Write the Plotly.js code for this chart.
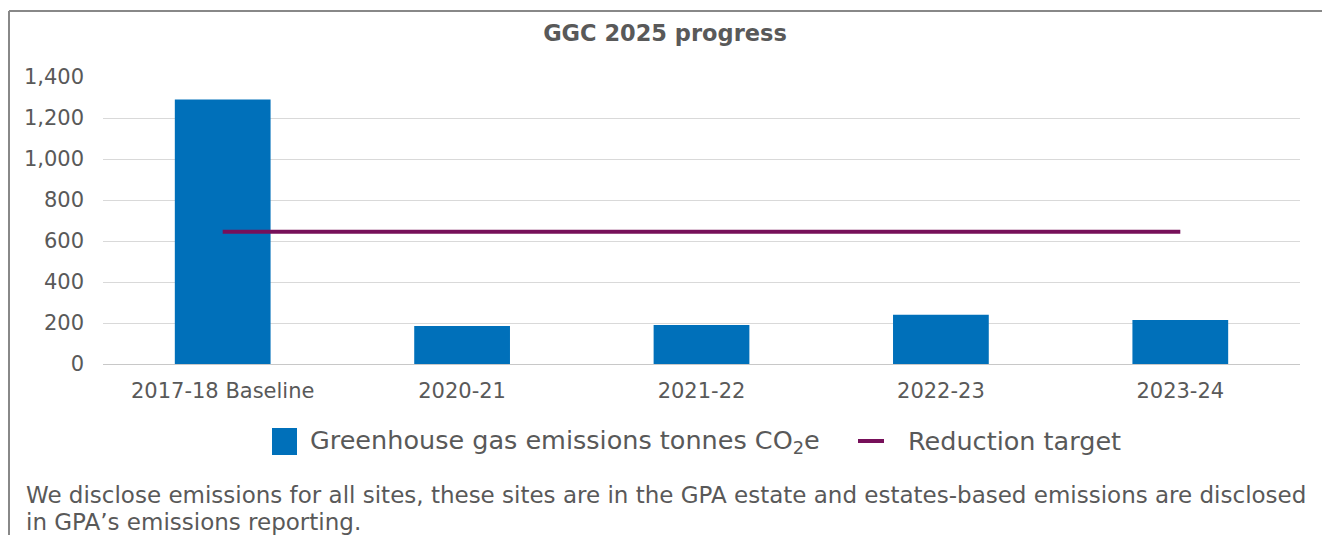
<!DOCTYPE html>
<html>
<head>
<meta charset="utf-8">
<script src="https://cdn.plot.ly/plotly-3.0.1.min.js"></script>
<style>html,body{margin:0;padding:0;background:#fff;}#chart{width:1322px;height:535px;}</style>
</head>
<body>
<div id="chart"></div>
<script>
const categories = ["2017-18 Baseline", "2020-21", "2021-22", "2022-23", "2023-24"];
const emissions = [1290, 185, 190, 240, 215];
const target = [645, 645, 645, 645, 645];
const yTicks = [0, 200, 400, 600, 800, 1000, 1200, 1400];
const yTickLabels = ["0", "200", "400", "600", "800", "1,000", "1,200", "1,400"];
const seriesNames = ["Greenhouse gas emissions tonnes CO<sub>2</sub>e", "Reduction target"];
const titleText = "GGC 2025 progress";
const footLines = ["We disclose emissions for all sites, these sites are in the GPA estate and estates-based emissions are disclosed",
                   "in GPA’s emissions reporting."];

const font = "DejaVu Sans, sans-serif";
const grey = "#595959";
const blue = "#0070BA";
const plum = "#77105A";

// pixel -> paper helpers (plot area: x 103..1300, y 77..364)
const px = X => (X - 103) / 1197;
const py = Y => (364 - Y) / 287;

const traces = [
  {type: "bar", x: categories, y: emissions, name: seriesNames[0],
   marker: {color: blue}, showlegend: false},
  {type: "scatter", mode: "lines", x: categories, y: target, name: seriesNames[1],
   line: {color: plum, width: 4}, showlegend: false}
];

const layout = {
  width: 1322, height: 535,
  margin: {l: 103, r: 22, t: 77, b: 171},
  paper_bgcolor: "#fff", plot_bgcolor: "#fff",
  font: {family: font, color: grey},
  title: {text: "<b>" + titleText + "</b>", x: 0.503, xanchor: "center", y: 0.938, yanchor: "middle",
          font: {family: font, size: 22.5, color: grey}},
  bargap: 0.6,
  showlegend: false,
  xaxis: {type: "category", showgrid: false, showline: true, linecolor: "#c8c8c8", linewidth: 1,
          ticks: "", ticklabelstandoff: 8, tickfont: {family: font, size: 21, color: grey}, fixedrange: true},
  yaxis: {range: [0, 1400], tickvals: yTicks, ticktext: yTickLabels, showgrid: true,
          gridcolor: "#d9d9d9", gridwidth: 1, zeroline: false, showline: false, ticks: "",
          ticklabelstandoff: 18, tickfont: {family: font, size: 21, color: grey}, fixedrange: true},
  shapes: [
    {type: "line", xref: "paper", yref: "paper", x0: px(9), x1: px(1330), y0: py(11), y1: py(11),
     line: {color: "#888", width: 2}},
    {type: "line", xref: "paper", yref: "paper", x0: px(9), x1: px(9), y0: py(11), y1: py(560),
     line: {color: "#888", width: 2}},
    // legend swatches
    {type: "rect", xref: "paper", yref: "paper", x0: px(272), x1: px(297), y0: py(455), y1: py(428),
     fillcolor: blue, line: {width: 0}},
    {type: "line", xref: "paper", yref: "paper", x0: px(858), x1: px(884), y0: py(441), y1: py(441),
     line: {color: plum, width: 4}}
  ],
  annotations: [
    {xref: "paper", yref: "paper", x: px(308), xanchor: "left", y: py(441), yanchor: "middle",
     text: seriesNames[0], showarrow: false, font: {family: font, size: 25.5, color: grey}},
    {xref: "paper", yref: "paper", x: px(906), xanchor: "left", y: py(441), yanchor: "middle",
     text: seriesNames[1], showarrow: false, font: {family: font, size: 25.5, color: grey}},
    {xref: "paper", yref: "paper", x: px(24), xanchor: "left", y: py(495), yanchor: "middle",
     text: footLines[0], showarrow: false, align: "left", font: {family: font, size: 23, color: grey}},
    {xref: "paper", yref: "paper", x: px(24), xanchor: "left", y: py(522), yanchor: "middle",
     text: footLines[1], showarrow: false, align: "left", font: {family: font, size: 23, color: grey}}
  ]
};

Plotly.newPlot("chart", traces, layout, {displayModeBar: false, staticPlot: true});
</script>
</body>
</html>
